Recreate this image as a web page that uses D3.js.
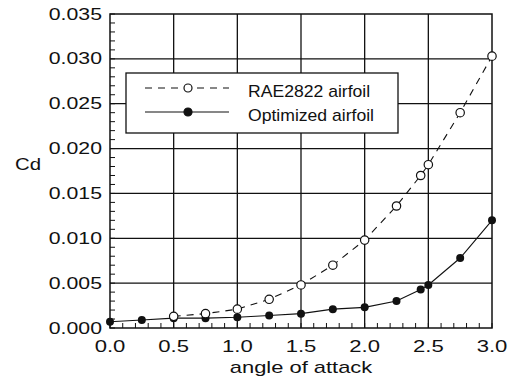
<!DOCTYPE html>
<html>
<head>
<meta charset="utf-8">
<script src="https://cdn.jsdelivr.net/npm/d3@7"></script>
<style>
  html, body { margin: 0; padding: 0; background: #fff; }
  svg { display: block; }
  text { font-family: "Liberation Sans", Arial, Helvetica, sans-serif; fill: #111; }
</style>
</head>
<body>
<svg id="chart" width="510" height="381"></svg>
<script>
// Drag coefficient vs angle of attack
const raeAlpha = [0.5, 0.75, 1.0, 1.25, 1.5, 1.75, 2.0, 2.25, 2.44, 2.5, 2.75, 3.0];
const raeCd    = [0.0013, 0.0016, 0.0021, 0.0032, 0.0048, 0.0070, 0.0098, 0.0136, 0.0170, 0.0182, 0.0240, 0.0303];

const optAlpha = [0.0, 0.25, 0.5, 0.75, 1.0, 1.25, 1.5, 1.75, 2.0, 2.25, 2.44, 2.5, 2.75, 3.0];
const optCd    = [0.0007, 0.0009, 0.0011, 0.0011, 0.0012, 0.0014, 0.0016, 0.0021, 0.0023, 0.0030, 0.0043, 0.0048, 0.0078, 0.0120];

const xTicks = [0.0, 0.5, 1.0, 1.5, 2.0, 2.5, 3.0];
const yTicks = [0.000, 0.005, 0.010, 0.015, 0.020, 0.025, 0.030, 0.035];
const seriesNames = ["RAE2822 airfoil", "Optimized airfoil"];
const xTitle = "angle of attack";
const yTitle = "Cd";

const L = 110, R = 492, T = 14, B = 328;
const x = d3.scaleLinear().domain([0, 3]).range([L, R]);
const y = d3.scaleLinear().domain([0, 0.035]).range([B, T]);

const svg = d3.select("#chart");

// horizontally stretched text, as in the printed figure
function wideText(parent, px, py, str, size, sx, anchor) {
  return parent.append("text")
    .attr("transform", `translate(${px},${py}) scale(${sx},1)`)
    .attr("text-anchor", anchor)
    .attr("font-size", size)
    .text(str);
}

// grid lines
const grid = svg.append("g").attr("stroke", "#111").attr("stroke-width", 1.3);
grid.selectAll("line.gx").data(xTicks.slice(1, -1)).join("line")
  .attr("x1", d => x(d)).attr("x2", d => x(d)).attr("y1", T).attr("y2", B);
grid.selectAll("line.gy").data(yTicks.slice(1, -1)).join("line")
  .attr("x1", L).attr("x2", R).attr("y1", d => y(d)).attr("y2", d => y(d));

// inward minor ticks on bottom and left axes
const xMinor = d3.range(0, 31).map(i => i / 10);
const yMinor = d3.range(0, 36).map(i => i / 1000);
const ticks = svg.append("g").attr("stroke", "#111").attr("stroke-width", 1);
ticks.selectAll("line.mx").data(xMinor).join("line")
  .attr("x1", d => x(d)).attr("x2", d => x(d)).attr("y1", B).attr("y2", B - 5);
ticks.selectAll("line.my").data(yMinor).join("line")
  .attr("x1", L).attr("x2", L + 5).attr("y1", d => y(d)).attr("y2", d => y(d));

// frame
svg.append("rect").attr("x", L).attr("y", T).attr("width", R - L).attr("height", B - T)
  .attr("fill", "none").attr("stroke", "#111").attr("stroke-width", 1.5);

// tick labels
const fmtY = d3.format(".3f"), fmtX = d3.format(".1f");
yTicks.forEach(v => wideText(svg, 102, y(v) + 5.5, fmtY(v), 16, 1.33, "end"));
xTicks.forEach(v => wideText(svg, x(v), 352, fmtX(v), 16, 1.38, "middle"));

// axis titles
wideText(svg, x(1.5), 372.5, xTitle, 16, 1.37, "middle");
wideText(svg, 28, 170, yTitle, 17, 1.2, "middle");

// series lines and markers
const raePts = raeAlpha.map((a, i) => [a, raeCd[i]]);
const optPts = optAlpha.map((a, i) => [a, optCd[i]]);
const line = d3.line().x(d => x(d[0])).y(d => y(d[1]));

svg.append("path").attr("d", line(raePts)).attr("fill", "none")
  .attr("stroke", "#111").attr("stroke-width", 1.1).attr("stroke-dasharray", "7,6");
svg.append("path").attr("d", line(optPts)).attr("fill", "none")
  .attr("stroke", "#111").attr("stroke-width", 1.1);

svg.append("g").selectAll("circle").data(optPts).join("circle")
  .attr("cx", d => x(d[0])).attr("cy", d => y(d[1])).attr("r", 4)
  .attr("fill", "#111");
svg.append("g").selectAll("circle").data(raePts).join("circle")
  .attr("cx", d => x(d[0])).attr("cy", d => y(d[1])).attr("r", 4.2)
  .attr("fill", "#fff").attr("stroke", "#111").attr("stroke-width", 1.2);

// legend
const lg = svg.append("g");
lg.append("rect").attr("x", 126).attr("y", 73).attr("width", 272).attr("height", 60)
  .attr("fill", "#fff").attr("stroke", "#111").attr("stroke-width", 1.3);
const rows = [
  { name: seriesNames[0], dash: "7,6", fill: "#fff", yy: 88 },
  { name: seriesNames[1], dash: null, fill: "#111", yy: 112 }
];
rows.forEach(r => {
  lg.append("line").attr("x1", 145).attr("x2", 229).attr("y1", r.yy).attr("y2", r.yy)
    .attr("stroke", "#111").attr("stroke-width", 1.1)
    .attr("stroke-dasharray", r.dash);
  lg.append("circle").attr("cx", 188).attr("cy", r.yy).attr("r", 4)
    .attr("fill", r.fill).attr("stroke", "#111").attr("stroke-width", 1.2);
  wideText(lg, 248, r.yy + 8.5, r.name, 16, 1.1, "start");
});
</script>
</body>
</html>
